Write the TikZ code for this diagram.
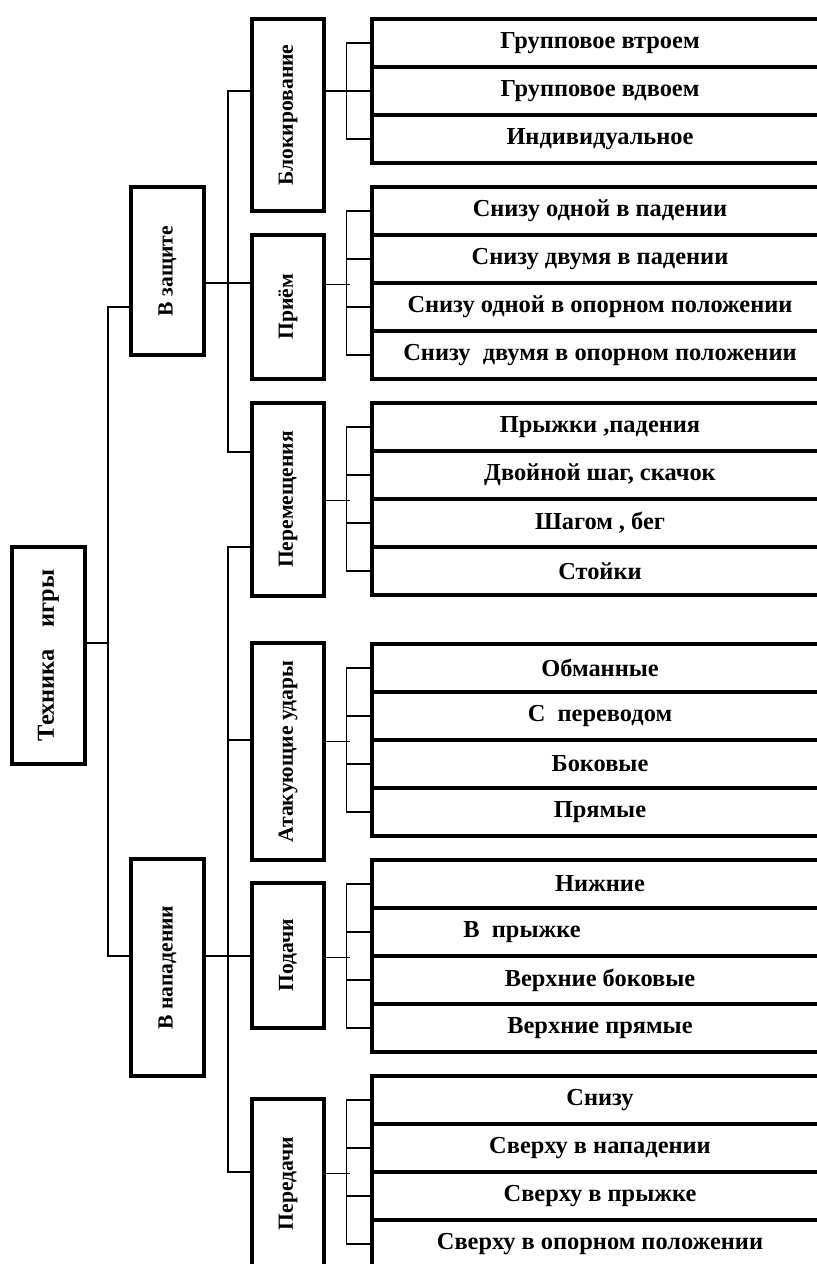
\documentclass[tikz,border=0pt]{standalone}
\usepackage{fontspec}
\setmainfont{Liberation Serif}
\usepackage{tikz}
\tikzset{%
    box/.style={draw, line width=1.6pt, inner sep=0pt}
}

\begin{document}
\begin{tikzpicture}[x=0.5pt, y=-0.5pt,
        vbox/.style={box, minimum width=36.5pt, font=\bfseries\fontsize{10.8}{12}\selectfont},
        leaf/.style={box, minimum width=228pt, minimum height=24pt, font=\bfseries\fontsize{12.2}{14}\selectfont},
        conn/.style={line width=0.7pt}
        ]
        \useasboundingbox (0,0) rectangle (817,1264);
        \clip (0,0) rectangle (817,1264);

        % root and the two halves
        \node[vbox, minimum height=108.5pt, font=\bfseries\fontsize{12.2}{14}\selectfont] (tech) at (48.5,655.5) {\rotatebox{90}{Техника\hspace{11pt}игры}};
        \node[vbox, minimum height=84pt] (zash) at (167.5,271) {\rotatebox{90}{В защите}};
        \node[vbox, minimum height=108.5pt] (napad) at (167.5,967.5) {\rotatebox{90}{В нападении}};

        % second level
        \node[vbox, minimum width=36pt, minimum height=96pt] (blok) at (288,115) {\rotatebox{90}{Блокирование}};
        \node[vbox, minimum width=36pt, minimum height=72pt] (priem) at (288,307) {\rotatebox{90}{Приём}};
        \node[vbox, minimum width=36pt, minimum height=96.5pt] (perem) at (288,499.5) {\rotatebox{90}{Перемещения}};
        \node[vbox, minimum width=36pt, minimum height=108.5pt] (atak) at (288,751.5) {\rotatebox{90}{Атакующие удары}};
        \node[vbox, minimum width=36pt, minimum height=72.5pt] (podachi) at (288,955.5) {\rotatebox{90}{Подачи}};
        \node[vbox, minimum width=36pt, minimum height=84.5pt] (pered) at (288,1183.5) {\rotatebox{90}{Передачи}};

        % leaves
        \node[leaf] (l1a) at (600,43) {Групповое втроем};
        \node[leaf] (l1b) at (600,91) {Групповое вдвоем};
        \node[leaf] (l1c) at (600,139) {Индивидуальное};

        \node[leaf] (l2a) at (600,211) {Снизу одной в падении};
        \node[leaf] (l2b) at (600,259) {Снизу двумя в падении};
        \node[leaf] (l2c) at (600,307) {Снизу одной в опорном положении};
        \node[leaf] (l2d) at (600,355) {Снизу~~двумя в опорном положении};

        \node[leaf] (l3a) at (600,427) {Прыжки ,падения};
        \node[leaf] (l3b) at (600,475) {Двойной шаг, скачок};
        \node[leaf] (l3c) at (600,523) {Шагом , бег};
        \node[leaf] (l3d) at (600,571) {Стойки};

        \node[leaf] (l4a) at (600,668) {Обманные};
        \node[leaf] (l4b) at (600,716) {С~~переводом};
        \node[leaf] (l4c) at (600,764) {Боковые};
        \node[leaf] (l4d) at (600,812) {Прямые};

        \node[leaf] (l5a) at (600,884) {Нижние};
        \node[leaf] (l5b) at (600,932) {В~~прыжке\hspace*{78pt}};
        \node[leaf] (l5c) at (600,980) {Верхние боковые};
        \node[leaf] (l5d) at (600,1028) {Верхние прямые};

        \node[leaf] (l6a) at (600,1100) {Снизу};
        \node[leaf] (l6b) at (600,1148) {Сверху в нападении};
        \node[leaf] (l6c) at (600,1196) {Сверху в прыжке};
        \node[leaf] (l6d) at (600,1244) {Сверху в опорном положении};

        % trunks
        \coordinate (t0) at (108,643);
        \coordinate (ta) at (108,307);
        \coordinate (tb) at (108,956);
        \draw[conn] (tech.east |- t0) -- (t0);
        \draw[conn] (zash.west |- ta) -- (ta) -- (tb) -- (napad.west |- tb);

        \coordinate (b1) at (228,91);
        \coordinate (b2) at (228,452);
        \coordinate (b3) at (228,283);
        \draw[conn] (blok.west |- b1) -- (b1) -- (b2) -- (perem.west |- b2);
        \draw[conn] (zash.east |- b3) -- (priem.west |- b3);

        \coordinate (c1) at (228,547);
        \coordinate (c2) at (228,1172);
        \coordinate (c3) at (228,740);
        \coordinate (c4) at (228,956);
        \draw[conn] (perem.west |- c1) -- (c1) -- (c2) -- (pered.west |- c2);
        \draw[conn] (c3) -- (atak.west |- c3);
        \draw[conn] (napad.east |- c4) -- (podachi.west |- c4);

        % brackets
        \draw[conn] (blok.east |- l1b) -- (l1b.west);
        \draw[conn] (l1a.west) -- ++(-24,0) |- (l1c.west);

        \draw[conn] (priem.east |- l2b.south) -- ++(24,0);
        \draw[conn] (l2a.west) -- ++(-24,0) |- (l2d.west);
        \draw[conn] (l2b.west) -- ++(-24,0);
        \draw[conn] (l2c.west) -- ++(-24,0);

        \draw[conn] (perem.east |- l3b.south) -- ++(24,0);
        \draw[conn] (l3a.west) -- ++(-24,0) |- (l3d.west);
        \draw[conn] (l3b.west) -- ++(-24,0);
        \draw[conn] (l3c.west) -- ++(-24,0);

        \draw[conn] (atak.east |- l4b.south) -- ++(24,0);
        \draw[conn] (l4a.west) -- ++(-24,0) |- (l4d.west);
        \draw[conn] (l4b.west) -- ++(-24,0);
        \draw[conn] (l4c.west) -- ++(-24,0);

        \draw[conn] (podachi.east |- l5b.south) -- ++(24,0);
        \draw[conn] (l5a.west) -- ++(-24,0) |- (l5d.west);
        \draw[conn] (l5b.west) -- ++(-24,0);
        \draw[conn] (l5c.west) -- ++(-24,0);

        \draw[conn] (pered.east |- l6b.south) -- ++(24,0);
        \draw[conn] (l6a.west) -- ++(-24,0) |- (l6d.west);
        \draw[conn] (l6b.west) -- ++(-24,0);
        \draw[conn] (l6c.west) -- ++(-24,0);
    \end{tikzpicture}
\end{document}
